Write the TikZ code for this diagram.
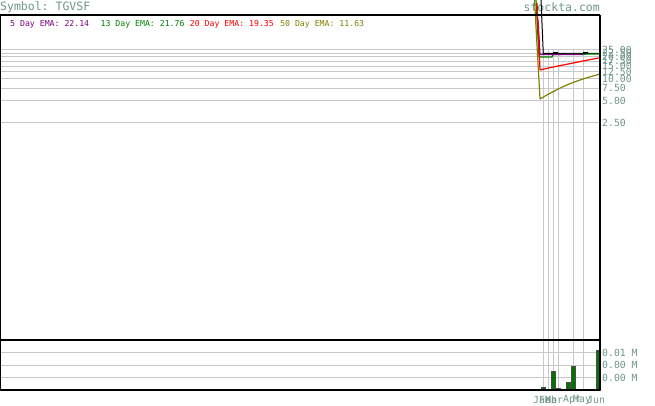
\documentclass[tikz,border=0pt]{standalone}
\usepackage{fontspec}
\setmonofont{DejaVu Sans Mono}
\usepackage{tikz}
\usetikzlibrary{positioning}
\definecolor{axisgray}{RGB}{112,152,136}
\definecolor{gridgray}{RGB}{200,200,200}
\definecolor{emapurple}{RGB}{128,0,128}
\definecolor{emagreen}{RGB}{0,128,0}
\definecolor{emared}{RGB}{255,0,0}
\definecolor{emaolive}{RGB}{128,128,0}
\definecolor{volgreen}{RGB}{0,118,0}
\newcommand{\level}[3]{\draw[gridline] (0,#1) -- (600,#1); \node[axislabel] (#2) at (602,#1) {#3}}
\newcommand{\dayline}[1]{\draw[gridline] (#1,50) -- (#1,390)}
\newcommand{\vbar}[4]{\draw[#4] (#1,390) rectangle (#2,#3)}

\begin{document}
\begin{tikzpicture}[x=1pt,y=-1pt,
    gridline/.style={draw=gridgray,line width=1pt},
    axislabel/.style={anchor=west,inner sep=0pt,text=axisgray,font=\ttfamily\fontsize{9.8}{10}\selectfont},
    emalabel/.style={anchor=west,inner sep=0pt,font=\ttfamily\fontsize{8.2}{10}\selectfont},
    frame/.style={line width=1.3pt},
    ema/.style={line width=1.2pt,line join=round}]
    \useasboundingbox[fill=white] (0,0) rectangle (655,406);
    \node[axislabel,font=\ttfamily\fontsize{11.5}{12}\selectfont] (sym) at (0,7) {Symbol: TGVSF};
    \node[axislabel,anchor=east,font=\ttfamily\fontsize{11.5}{12}\selectfont] (site) at (600,7) {stockta.com};
    % price grid
    \level{50}{l25}{25.00};
    \level{53.3}{l225}{22.50};
    \level{57}{l20}{20.00};
    \level{61.2}{l175}{17.50};
    \level{66.1}{l15}{15.00};
    \level{71.9}{l125}{12.50};
    \level{79}{l10}{10.00};
    \level{88.1}{l75}{7.50};
    \level{101}{l5}{5.00};
    \level{123}{l25b}{2.50};
    % volume grid
    \level{352.5}{v1}{0.01 M};
    \level{365}{v2}{0.00 M};
    \level{377.5}{v3}{0.00 M};
    \dayline{543}; \dayline{548}; \dayline{553}; \dayline{558}; \dayline{573}; \dayline{583};
    % moving averages
    \draw[line width=1pt] (541,0) -- (543,47) -- (543,53.5) -- (600,53.5);
    \draw[line width=1pt] (553,52.6) -- (558,52.6) (583,52.6) -- (588,52.6);
    \draw[ema,emagreen] (536,0) -- (539,57) -- (552,57) -- (553,54.5) -- (600,54);
    \draw[ema,emapurple] (538,20) -- (540,54.5) -- (583,54.5);
    \draw[ema,emared] (537,3) -- (540,70) plot[smooth] coordinates {(540,70) (550,67.7) (566.7,64.3) (583,61) (600,57.7)};
    \draw[ema,emaolive] (534.5,0) -- (540,99) plot[smooth] coordinates {(540,99) (550,93.3) (566.7,85) (583,79) (600,74)};
    % volume bars
    \vbar{541.3}{545.3}{387}{fill=volgreen,draw=black!70,line width=0.6pt};
    \vbar{551.3}{555.3}{371}{fill=volgreen,draw=black!70,line width=0.6pt};
    \vbar{556.7}{560}{388.3}{fill=red,draw=black!70,line width=0.6pt};
    \vbar{566.7}{570.7}{382.7}{fill=volgreen,draw=black!70,line width=0.6pt};
    \vbar{571.7}{575.7}{366}{fill=volgreen,draw=black!70,line width=0.6pt};
    \vbar{596.3}{600}{350.3}{fill=volgreen,draw=black!70,line width=0.6pt};
    % frame
    \draw[frame] (0,15) -- (600,15);
    \draw[frame] (0.6,15) -- (0.6,390);
    \draw[frame] (600,15) -- (600,390);
    \draw[frame] (0,340) -- (600,340);
    \draw[frame] (0,390) -- (600,390);
    % header
    \node[emalabel,text=emapurple] (ema5) at (10,24) {5 Day EMA: 22.14};
    \node[emalabel,text=emagreen,right=11pt of ema5] (ema13) {13 Day EMA: 21.76};
    \node[emalabel,text=emared,right=5pt of ema13] (ema20) {20 Day EMA: 19.35};
    \node[emalabel,text=emaolive,right=6pt of ema20] (ema50) {50 Day EMA: 11.63};
    % months
    \node[axislabel] (jan) at (533,400) {Jan};
    \node[axislabel] (feb) at (539,400) {Feb};
    \node[axislabel] (mar) at (545,400) {Mar};
    \node[axislabel] (apr) at (563,400) {Apr};
    \node[axislabel] (may) at (573,400) {May};
    \node[axislabel] (jun) at (587,400) {Jun};
\end{tikzpicture}
\end{document}
